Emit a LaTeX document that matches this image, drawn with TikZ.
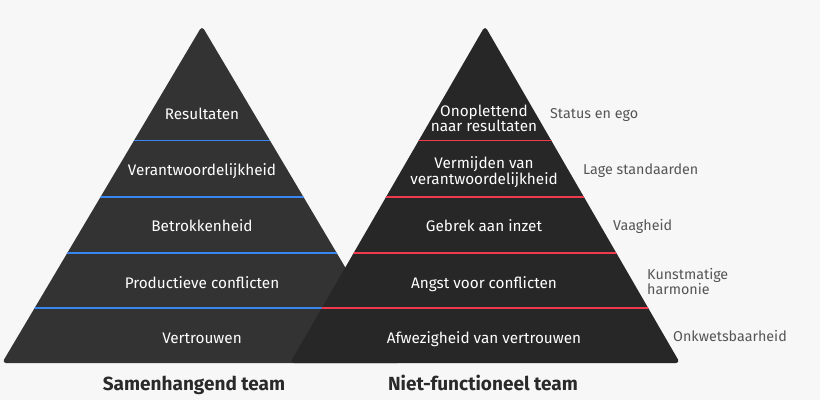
\documentclass[tikz,border=0pt]{standalone}
\usepackage{fontspec}
\setmainfont{Fira Sans}
\definecolor{bg}{HTML}{F7F7F7}
\definecolor{leftfill}{HTML}{333333}
\definecolor{rightfill}{HTML}{272727}
\definecolor{bluel}{HTML}{3A86F0}
\definecolor{redl}{HTML}{EE3A4C}
\definecolor{labelgray}{HTML}{555555}
\definecolor{titlec}{HTML}{2A2A2A}
\tikzset{
  ptext/.style={text=white, font=\fontsize{15.3}{14.8}\selectfont, align=center, inner sep=0pt},
  sidelabel/.style={text=labelgray, font=\fontsize{14.3}{15}\selectfont, align=left, inner sep=0pt},
  title/.style={text=titlec, font=\fontsize{19}{21}\selectfont\bfseries, inner sep=0pt, anchor=base},
  bluerule/.style={draw=bluel, line width=1.6pt},
  redrule/.style={draw=redl, line width=1.6pt}
}
\begin{document}
\begin{tikzpicture}[x=1pt,y=-1pt]
\fill[bg] (0,0) rectangle (820,400);
\useasboundingbox (0,0) rectangle (820,400);
% left pyramid
\coordinate (LA) at (202,26);
\coordinate (LL) at (2,363);
\coordinate (LR) at (402,363);
\coordinate (LM) at (202,363);
\fill[leftfill, rounded corners=4pt] (LM) -- (LR) -- (LA) -- (LL) -- cycle;
\begin{scope}
  \clip (LA) -- (LR) -- (LL) -- cycle;
  \foreach \yy in {140.3,196.7,252.7,308} {
    \draw[bluerule] (0,\yy) -- (420,\yy);
  }
\end{scope}
% right pyramid
\coordinate (RA) at (485,26);
\coordinate (RL) at (290,363);
\coordinate (RR) at (680,363);
\coordinate (RM) at (485,363);
\fill[rightfill, rounded corners=4pt] (RM) -- (RR) -- (RA) -- (RL) -- cycle;
\begin{scope}
  \clip (RA) -- (RR) -- (RL) -- cycle;
  \foreach \yy in {140.3,196.7,252.7,308} {
    \draw[redrule] (280,\yy) -- (700,\yy);
  }
\end{scope}
% left texts
\node[ptext, anchor=base] (l1) at (202,119.5) {Resultaten};
\node[ptext, anchor=base] (l2) at (202,175) {Verantwoordelijkheid};
\node[ptext, anchor=base] (l3) at (202,231.5) {Betrokkenheid};
\node[ptext, anchor=base] (l4) at (202,288.5) {Productieve conflicten};
\node[ptext, anchor=base] (l5) at (202,343.5) {Vertrouwen};
% right texts
\node[ptext] (r1) at (484,118.5) {Onoplettend\\naar resultaten};
\node[ptext] (r2) at (484,172) {Vermijden van\\verantwoordelijkheid};
\node[ptext, anchor=base] (r3) at (484,231.5) {Gebrek aan inzet};
\node[ptext, anchor=base] (r4) at (484,288.5) {Angst voor conflicten};
\node[ptext, anchor=base] (r5) at (484,343.5) {Afwezigheid van vertrouwen};
% side labels
\node[sidelabel, anchor=base west] (s1) at (550,118) {Status en ego};
\node[sidelabel, anchor=base west] (s2) at (583,174) {Lage standaarden};
\node[sidelabel, anchor=base west] (s3) at (613,230) {Vaagheid};
\node[sidelabel, anchor=west] (s4) at (647,281.5) {Kunstmatige\\harmonie};
\node[sidelabel, anchor=base west] (s5) at (673,341) {Onkwetsbaarheid};
% titles
\node[title] (t1) at (194,390) {Samenhangend team};
\node[title] (t2) at (483,390) {Niet-functioneel team};
\end{tikzpicture}
\end{document}
